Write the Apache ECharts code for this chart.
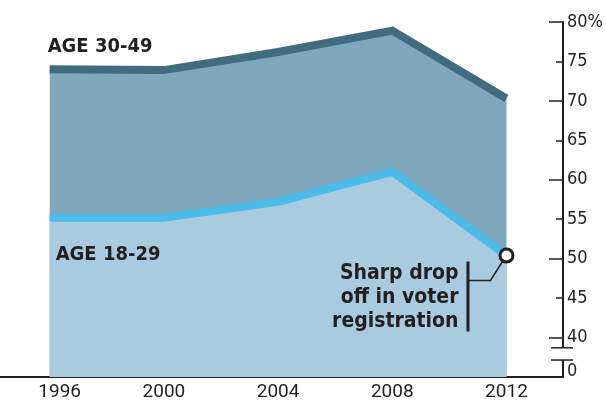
<!DOCTYPE html>
<html>
<head>
<meta charset="utf-8">
<script src="https://cdn.jsdelivr.net/npm/echarts@6/dist/echarts.min.js"></script>
<style>
  html, body { margin: 0; padding: 0; background: #fff; }
  #main { width: 606px; height: 404px; }
</style>
</head>
<body>
<div id="main"></div>
<script>
// data
const years = [1996, 2000, 2004, 2008, 2012];
const age3049 = [74.0, 73.9, 76.2, 78.9, 70.3];
const age1829 = [55.2, 55.2, 57.2, 61.0, 50.4];
const yTickValues = [35, 40, 45, 50, 55, 60, 65, 70, 75, 80];
const note = ['Sharp drop', 'off in voter', 'registration'];

const ink = '#231f20';
const narrow = '"Liberation Sans Narrow", "DejaVu Sans Condensed", sans-serif';

const chartDom = document.getElementById('main');
const myChart = echarts.init(chartDom);

const pairs = (vals) => years.map((y, i) => [y, vals[i]]);
const youngData = pairs(age1829);
// circle marker on the last point only
youngData[youngData.length - 1] = {
  value: youngData[youngData.length - 1],
  symbol: 'circle',
  symbolSize: 13,
  itemStyle: { color: '#fff', borderColor: ink, borderWidth: 3 }
};

const option = {
  animation: false,
  grid: { left: 0, right: 39, top: 22, bottom: 27 },
  xAxis: {
    type: 'value',
    min: 1994.26,
    max: 2013.98,
    splitLine: { show: false },
    axisLine: { show: true, lineStyle: { color: ink, width: 2 } },
    axisTick: { show: false },
    axisLabel: {
      customValues: years,
      formatter: (v) => v === years[0] ? '{a|' + v + '}' : String(v),
      color: ink,
      fontFamily: 'Roboto, sans-serif',
      fontSize: 19,
      margin: 6,
      rich: { a: { fontFamily: 'Roboto, sans-serif', fontSize: 19, color: ink, padding: [0, 0, 0, 20] } }
    }
  },
  yAxis: [
    {
      type: 'value',
      position: 'right',
      min: 35,
      max: 80,
      interval: 5,
      splitLine: { show: false },
      axisLine: { show: true, lineStyle: { color: ink, width: 2 } },
      axisTick: {
        show: true, inside: true, length: 7,
        customValues: yTickValues.slice(1),
        lineStyle: { color: ink, width: 1.5 }
      },
      axisLabel: {
        customValues: yTickValues,
        margin: 4,
        color: ink,
        fontFamily: narrow,
        fontSize: 18,
        formatter: (v) => v === 35 ? '{z|0}' : (v === 80 ? '80%' : String(v)),
        rich: { z: { fontFamily: narrow, fontSize: 18, color: ink, padding: [0, 0, 12, 0] } }
      }
    },
    {
      type: 'value',
      position: 'right',
      min: 35,
      max: 80,
      interval: 5,
      splitLine: { show: false },
      axisLine: { show: false },
      axisTick: {
        show: true, inside: true, length: 14,
        customValues: [40, 50, 60, 70, 80],
        lineStyle: { color: ink, width: 1.5 }
      },
      axisLabel: { show: false }
    }
  ],
  series: [
    {
      name: 'AGE 30-49',
      type: 'line',
      data: pairs(age3049),
      symbol: 'none',
      lineStyle: { color: '#416c80', width: 8, join: 'miter' },
      areaStyle: { color: '#7fa8bd', opacity: 1, origin: 'start' },
      z: 2
    },
    {
      name: 'AGE 18-29',
      type: 'line',
      data: youngData,
      symbol: 'none',
      showSymbol: true,
      lineStyle: { color: '#4bbbea', width: 8, join: 'miter' },
      areaStyle: { color: '#a9cbe0', opacity: 1, origin: 'start' },
      z: 3
    }
  ]
};

option && myChart.setOption(option);

// labels, annotation and axis break placed from the scales
const px = (x, y) => myChart.convertToPixel({ gridIndex: 0 }, [x, y]);
const axisX = px(2013.98, 40)[0];
const brkTop = px(1996, 38.7)[1];
const brkBot = px(1996, 37.15)[1];
const p3049 = px(years[0], age3049[0]);
const p1829 = px(years[0], age1829[0]);
const pEnd = px(years[4], age1829[4]);

myChart.setOption({
  graphic: [
    {
      type: 'text', x: p3049[0] - 2, y: p3049[1] - 23,
      style: { text: 'AGE 30-49', font: 'bold 20px ' + narrow, fill: ink, textVerticalAlign: 'middle' },
      z: 10
    },
    {
      type: 'text', x: p1829[0] + 6, y: p1829[1] + 37,
      style: { text: 'AGE 18-29', font: 'bold 20px ' + narrow, fill: ink, textVerticalAlign: 'middle' },
      z: 10
    },
    {
      type: 'text', x: pEnd[0] - 48, y: pEnd[1] + 6,
      style: {
        text: note.join('\n'), font: 'bold 21px ' + narrow, fill: ink,
        textAlign: 'right', lineHeight: 24
      },
      z: 10
    },
    {
      type: 'rect', shape: { x: pEnd[0] - 40, y: pEnd[1] + 6, width: 3, height: 70 },
      style: { fill: ink }, z: 10
    },
    {
      type: 'polyline',
      shape: { points: [[pEnd[0] - 38, pEnd[1] + 25], [pEnd[0] - 16, pEnd[1] + 25], [pEnd[0] - 4, pEnd[1] + 6]] },
      style: { stroke: ink, lineWidth: 1.5, fill: null }, z: 10
    },
    {
      type: 'rect', shape: { x: axisX - 3, y: brkTop, width: 6, height: brkBot - brkTop },
      style: { fill: '#fff' }, z: 10
    },
    {
      type: 'line', shape: { x1: axisX - 12, y1: brkTop, x2: axisX + 10, y2: brkTop },
      style: { stroke: ink, lineWidth: 1.5 }, z: 11
    },
    {
      type: 'line', shape: { x1: axisX - 12, y1: brkBot, x2: axisX + 10, y2: brkBot },
      style: { stroke: ink, lineWidth: 1.5 }, z: 11
    }
  ]
});
</script>
</body>
</html>
